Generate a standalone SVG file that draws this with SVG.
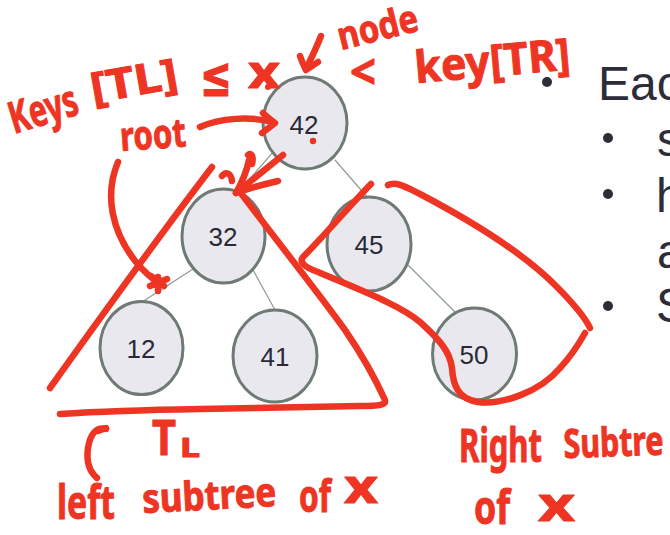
<svg xmlns="http://www.w3.org/2000/svg" width="670" height="535" viewBox="0 0 670 535">
<style>
.node ellipse{fill:#e8e8ee;stroke:#6f7a74;stroke-width:3}
.node text{font-family:"Liberation Sans",Arial,sans-serif;font-size:26px;fill:#2a2a36;text-anchor:middle}
.edge{stroke:#8e9b96;stroke-width:1.2;fill:none}
.slide{font-family:"Liberation Sans",Arial,sans-serif;font-size:48px;fill:#2d2d3a}
.ink{stroke:#ee3524;stroke-width:6.5;fill:none;stroke-linecap:round;stroke-linejoin:round}
.hw{font-family:"Noto Sans","DejaVu Sans",sans-serif;font-weight:700;fill:#ee3524;stroke:#ee3524;stroke-width:1;stroke-linejoin:round}
</style>
<rect width="670" height="535" fill="#ffffff"/>

<g id="connectors">
<line class="edge" x1="275" y1="150" x2="238" y2="192"/>
<line class="edge" x1="335" y1="160" x2="368" y2="198"/>
<line class="edge" x1="193" y1="269" x2="142" y2="302"/>
<line class="edge" x1="253" y1="270" x2="275" y2="310"/>
<line class="edge" x1="408" y1="265" x2="460" y2="317"/>
</g>

<g id="node-42" class="node"><ellipse cx="305" cy="123" rx="42" ry="46"/><text x="304" y="134">42</text></g>
<g id="node-32" class="node"><ellipse cx="223.5" cy="236" rx="41.5" ry="47"/><text x="223" y="246">32</text></g>
<g id="node-12" class="node"><ellipse cx="141.5" cy="348" rx="41.5" ry="46.5"/><text x="141" y="358">12</text></g>
<g id="node-41" class="node"><ellipse cx="275" cy="356" rx="42" ry="46"/><text x="275" y="366">41</text></g>
<g id="node-45" class="node"><ellipse cx="369" cy="244" rx="42" ry="47"/><text x="369" y="254">45</text></g>
<g id="node-50" class="node"><ellipse cx="474.5" cy="354" rx="42" ry="46"/><text x="474" y="364">50</text></g>

<g id="slide-text">
<circle cx="547" cy="82" r="5" fill="#2d2d3a"/>
<text class="slide" x="598" y="100">Eac</text>
<circle cx="608" cy="138" r="5" fill="#2d2d3a"/>
<text class="slide" x="657" y="156">s</text>
<circle cx="608" cy="194" r="5" fill="#2d2d3a"/>
<text class="slide" x="656" y="212">h</text>
<text class="slide" x="657" y="268">a</text>
<circle cx="608" cy="306" r="5" fill="#2d2d3a"/>
<text class="slide" x="656" y="322">S</text>
</g>

<g id="annotations">
<path class="ink" d="M212,167 C160,235 100,318 50,388"/>
<path class="ink" d="M240,192 C280,245 320,295 345,330 C360,352 375,378 385,400 C386,405 380,406 360,406 L200,409 C140,410 90,412 60,414"/>
<path class="ink" d="M371,184 C355,200 322,238 303,257 C299,262 304,267 318,272 C360,290 400,305 420,322 C440,340 450,352 452,368 C453,385 458,399 478,402 C502,405 540,392 560,368 C572,355 580,342 585,333"/>
<path class="ink" d="M388,185 C396,181 406,187 420,194 C460,215 520,250 555,285 C570,300 584,315 590,328"/>
<path class="ink" stroke-width="8" d="M283,155 L236,193"/>
<path class="ink" d="M249,160 C247,170 241,184 236,193 C250,188 265,184 278,181"/>
<path class="ink" stroke-width="4" d="M222,176 C226,171 231,173 232,181"/>
<path class="ink" stroke-width="4" d="M248,155 C251,152 254,156 252,164"/>
<path class="ink" d="M200,127 C220,118 250,116 273,122"/>
<path class="ink" d="M263,113 C267,117 271,120 275,123 C270,127 266,130 262,133"/>
<path class="ink" d="M118,162 C104,195 112,232 136,262 C146,274 154,280 160,284"/>
<path class="ink" d="M151,276 L164,286 M150,286 L167,279 M158,277 L158,291"/>
<path class="ink" d="M321,36 C317,46 312,57 306,69"/>
<path class="ink" d="M300,56 C302,62 304,66 306,70 C310,67 314,65 318,62"/>
<path class="ink" d="M106,429 C96,426 90,435 88,448 C86,462 90,472 97,478"/>
<path class="ink" d="M98,431 L106,428"/>
<circle cx="313" cy="141" r="3.2" fill="#ee3524"/>
<circle cx="268" cy="87" r="3" fill="#ee3524"/>

<text class="hw" font-size="44" x="14" y="134" textLength="70" lengthAdjust="spacingAndGlyphs" transform="rotate(-17 14 134)">Keys</text>
<text class="hw" font-size="42" x="93" y="103" textLength="88" lengthAdjust="spacingAndGlyphs" transform="rotate(-10 93 103)">[TL]</text>
<text class="hw" font-size="56" x="200" y="96" textLength="32" lengthAdjust="spacingAndGlyphs">≤</text>
<text class="hw" font-size="44" x="248" y="88" textLength="32" lengthAdjust="spacingAndGlyphs">x</text>
<text class="hw" font-size="38" x="341" y="50" textLength="82" lengthAdjust="spacingAndGlyphs" transform="rotate(-14 341 50)">node</text>
<text class="hw" font-size="48" x="350" y="89" textLength="26" lengthAdjust="spacingAndGlyphs">&lt;</text>
<text class="hw" font-size="44" x="416" y="83" textLength="156" lengthAdjust="spacingAndGlyphs" transform="rotate(-5 416 83)">key[TR]</text>
<text class="hw" font-size="40" x="121" y="151" textLength="66" lengthAdjust="spacingAndGlyphs" transform="rotate(-4 121 151)">root</text>
<text class="hw" font-size="48" x="152" y="455" textLength="24" lengthAdjust="spacingAndGlyphs">T</text>
<text class="hw" font-size="26" x="180" y="457" textLength="20" lengthAdjust="spacingAndGlyphs">L</text>
<text class="hw" font-size="46" x="57" y="519" textLength="58" lengthAdjust="spacingAndGlyphs">left</text>
<text class="hw" font-size="40" x="143" y="513" textLength="134" lengthAdjust="spacingAndGlyphs" transform="rotate(-3 143 513)">subtree</text>
<text class="hw" font-size="44" x="299" y="512" textLength="32" lengthAdjust="spacingAndGlyphs">of</text>
<text class="hw" font-size="46" x="344" y="503" textLength="34" lengthAdjust="spacingAndGlyphs">x</text>
<text class="hw" font-size="46" x="459" y="462" textLength="83" lengthAdjust="spacingAndGlyphs">Right</text>
<text class="hw" font-size="40" x="564" y="458" textLength="100" lengthAdjust="spacingAndGlyphs" transform="rotate(-2 564 458)">Subtre</text>
<text class="hw" font-size="46" x="474" y="524" textLength="36" lengthAdjust="spacingAndGlyphs">of</text>
<text class="hw" font-size="46" x="538" y="521" textLength="37" lengthAdjust="spacingAndGlyphs">x</text>
</g>
</svg>
